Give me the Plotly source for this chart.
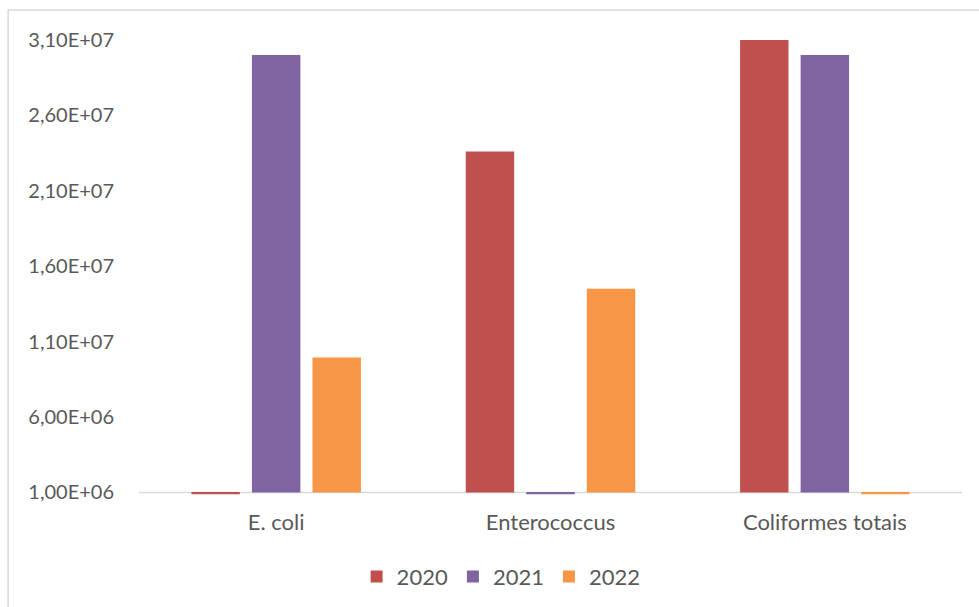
import plotly.graph_objects as go

categories = ["E. coli", "Enterococcus", "Coliformes totais"]
years = ["2020", "2021", "2022"]
values_2020 = [8.8e5, 2.36e7, 3.11e7]
values_2021 = [3.0e7, 8.8e5, 3.0e7]
values_2022 = [9.95e6, 1.45e7, 8.8e5]
colors = ["#C0504D", "#8064A2", "#F79646"]
tick_vals = [1e6, 6e6, 1.1e7, 1.6e7, 2.1e7, 2.6e7, 3.1e7]
tick_text = ["1,00E+06", "6,00E+06", "1,10E+07", "1,60E+07", "2,10E+07", "2,60E+07", "3,10E+07"]
axis_base = 1e6

series = [values_2020, values_2021, values_2022]

fig = go.Figure()
for name, vals, col in zip(years, series, colors):
    fig.add_trace(go.Bar(
        name=name, x=categories, y=[v - axis_base for v in vals], base=axis_base,
        marker=dict(color=col, line=dict(width=0)),
        customdata=vals, hovertemplate="%{x}<br>%{customdata:.3e}<extra>" + name + "</extra>",
    ))

font_family = "Lato, 'Open Sans', sans-serif"
text_color = "#595959"

fig.update_layout(
    width=979, height=607,
    margin=dict(l=139, r=17, t=40, b=110, autoexpand=False),
    paper_bgcolor="white", plot_bgcolor="white",
    barmode="group", bargap=0.338, bargroupgap=0.2,
    font=dict(family=font_family, size=20, color=text_color),
    showlegend=True,
    legend=dict(orientation="h", x=0.44, xanchor="center", y=-0.1745, yanchor="middle",
                font=dict(size=22, color=text_color), traceorder="normal"),
    xaxis=dict(showgrid=False, showline=False, ticks="", ticklabelstandoff=10,
               tickfont=dict(size=22, color=text_color)),
    yaxis=dict(range=[0.7e6, 3.1e7], tickvals=tick_vals, ticktext=tick_text,
               showgrid=False, zeroline=False, showline=False, ticks="",
               ticklabelstandoff=24, tickfont=dict(size=20, color=text_color)),
    shapes=[
        dict(type="line", xref="paper", yref="y", x0=0, x1=1, y0=axis_base, y1=axis_base,
             line=dict(color="#D9D9D9", width=1.5), layer="below"),
        dict(type="rect", xref="paper", yref="paper", x0=-0.159, x1=1.2, y0=-0.5, y1=1.0656,
             line=dict(color="#D9D9D9", width=1.5), layer="below"),
    ],
)

fig.write_html("out.html")
